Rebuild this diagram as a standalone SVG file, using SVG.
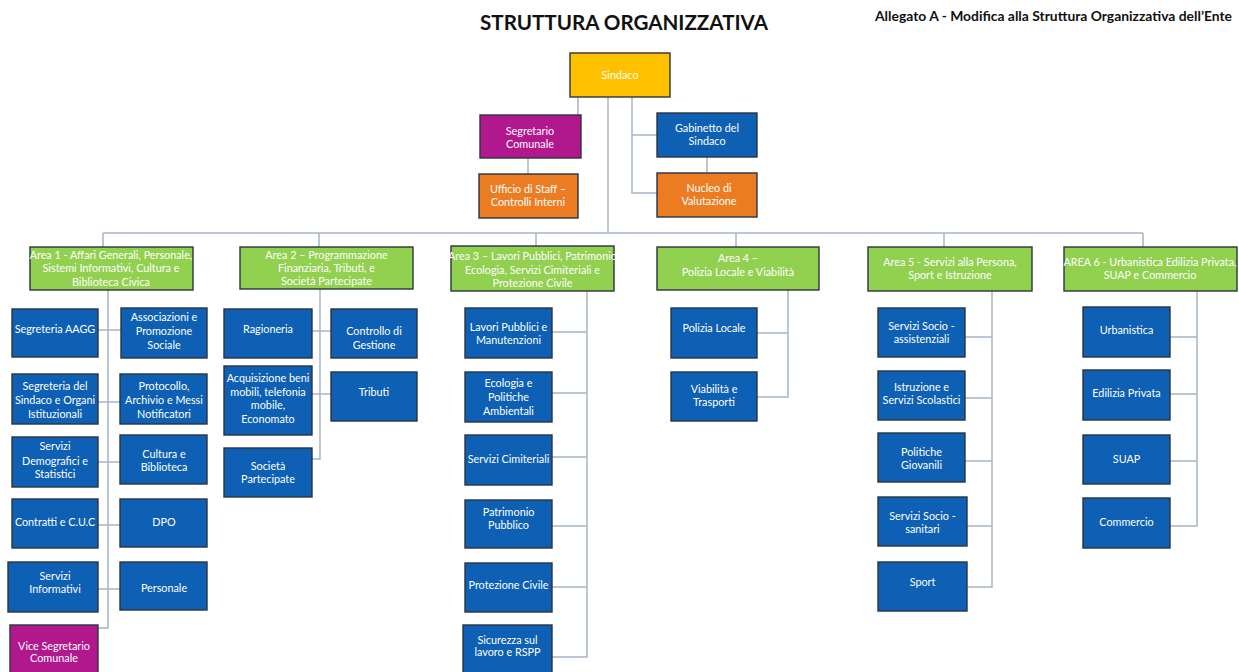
<svg xmlns="http://www.w3.org/2000/svg" width="1239" height="672" viewBox="0 0 1239 672">
  <style>
    .bg { fill: #ffffff; }
    .box { stroke: #2b3440; stroke-width: 1.4; }
    .blue { fill: #0E60B4; }
    .green { fill: #92D050; }
    .yellow { fill: #FFC000; }
    .orange { fill: #EC7C22; }
    .magenta { fill: #B1188E; }
    .t { font-family: Lato, "Open Sans", "Liberation Sans", sans-serif; font-size: 10.8px; fill: #ffffff; text-anchor: middle; }
    .ttl { font-family: Lato, "Liberation Sans", sans-serif; font-weight: bold; fill: #111111; }
    .ln { stroke: #A7B5C6; stroke-width: 1.5; fill: none; }
  </style>

  <rect class="bg" x="0" y="0" width="1239" height="672"/>

  <!-- headings -->
  <text class="ttl" x="480" y="30" font-size="20.5" textLength="288" lengthAdjust="spacingAndGlyphs">STRUTTURA ORGANIZZATIVA</text>
  <text class="ttl" x="875" y="21" font-size="12.5" textLength="357" lengthAdjust="spacingAndGlyphs">Allegato A - Modifica alla Struttura Organizzativa dell’Ente</text>

  <!-- connectors -->
  <g id="connectors" class="ln">
    <!-- top staff -->
    <path d="M578 97V115"/>
    <path d="M528 158V174"/>
    <path d="M608 97V233"/>
    <path d="M632 97V193H657M632 135H657"/>
    <path d="M707 157V173"/>
    <!-- area bus -->
    <path d="M103 233H1143"/>
    <path d="M103 233V247M319 233V247M536 233V246M736 233V247M944 233V247M1143 233V247"/>
    <!-- area 1 -->
    <path d="M108 290V628H98"/>
    <path d="M98 330H121M98 402H120M98 462H120M98 525H120M98 589H120"/>
    <!-- area 2 -->
    <path d="M320 289V459H312"/>
    <path d="M312 331H331M312 394H331"/>
    <!-- area 3 -->
    <path d="M587 291V657H552"/>
    <path d="M552 332H587M552 393H587M552 457H587M552 526H587M552 587H587"/>
    <!-- area 4 -->
    <path d="M788 290V397H757M757 333H788"/>
    <!-- area 5 -->
    <path d="M992 291V587H967"/>
    <path d="M965 337H992M965 398H992M965 461H992M967 526H992"/>
    <!-- area 6 -->
    <path d="M1197 291V526H1170"/>
    <path d="M1170 337H1197M1170 394H1197M1170 461H1197"/>
  </g>

  <!-- top level -->
  <g id="sindaco"><rect class="box yellow" x="570" y="53" width="100" height="44"/><text class="t" x="620" y="79">Sindaco</text></g>
  <g id="segretario"><rect class="box magenta" x="480" y="115" width="101" height="43"/><text class="t" x="530" y="135">Segretario</text><text class="t" x="530" y="148">Comunale</text></g>
  <g id="ufficio-staff"><rect class="box orange" x="479" y="174" width="99" height="44"/><text class="t" x="528" y="193">Ufficio di Staff –</text><text class="t" x="528" y="206">Controlli Interni</text></g>
  <g id="gabinetto"><rect class="box blue" x="657" y="113" width="100" height="44"/><text class="t" x="707" y="132">Gabinetto del</text><text class="t" x="707" y="145">Sindaco</text></g>
  <g id="nucleo"><rect class="box orange" x="657" y="173" width="100" height="44"/><text class="t" x="709" y="192">Nucleo di</text><text class="t" x="709" y="205">Valutazione</text></g>

  <!-- areas -->
  <g id="area1"><rect class="box green" x="30" y="247" width="163" height="43"/><text class="t" x="111" y="259">Area 1 - Affari Generali, Personale,</text><text class="t" x="111" y="272">Sistemi Informativi, Cultura e</text><text class="t" x="111" y="285.5">Biblioteca Civica</text></g>
  <g id="area2"><rect class="box green" x="240" y="247" width="173" height="42"/><text class="t" x="326.5" y="258.5">Area 2 – Programmazione</text><text class="t" x="326.5" y="271.5">Finanziaria, Tributi, e</text><text class="t" x="326.5" y="285">Società Partecipate</text></g>
  <g id="area3"><rect class="box green" x="451" y="246" width="163" height="45"/><text class="t" x="532.5" y="260">Area 3 – Lavori Pubblici, Patrimonio</text><text class="t" x="532.5" y="273.5">Ecologia, Servizi Cimiteriali e</text><text class="t" x="532.5" y="286.5">Protezione Civile</text></g>
  <g id="area4"><rect class="box green" x="657" y="247" width="162" height="43"/><text class="t" x="738" y="261.5">Area 4 –</text><text class="t" x="738" y="275.5">Polizia Locale e Viabilità</text></g>
  <g id="area5"><rect class="box green" x="868" y="247" width="164" height="44"/><text class="t" x="950" y="265.5">Area 5 - Servizi alla Persona,</text><text class="t" x="950" y="278.5">Sport e Istruzione</text></g>
  <g id="area6"><rect class="box green" x="1064" y="247" width="173" height="44"/><text class="t" x="1150" y="265.5">AREA 6 - Urbanistica Edilizia Privata,</text><text class="t" x="1150" y="278.5">SUAP e Commercio</text></g>

  <!-- area 1 offices -->
  <g id="segreteria-aagg"><rect class="box blue" x="12" y="309" width="86" height="48"/><text class="t" x="55" y="333">Segreteria AAGG</text></g>
  <g id="associazioni"><rect class="box blue" x="121" y="308" width="86" height="50"/><text class="t" x="164" y="321">Associazioni e</text><text class="t" x="164" y="335">Promozione</text><text class="t" x="164" y="349">Sociale</text></g>
  <g id="segreteria-sindaco"><rect class="box blue" x="12" y="374" width="86" height="50"/><text class="t" x="55" y="390">Segreteria del</text><text class="t" x="55" y="404">Sindaco e Organi</text><text class="t" x="55" y="418">Istituzionali</text></g>
  <g id="protocollo"><rect class="box blue" x="120" y="374" width="87" height="50"/><text class="t" x="164" y="390">Protocollo,</text><text class="t" x="164" y="404">Archivio e Messi</text><text class="t" x="164" y="418">Notificatori</text></g>
  <g id="demografici"><rect class="box blue" x="12" y="437" width="86" height="50"/><text class="t" x="55" y="450">Servizi</text><text class="t" x="55" y="464.5">Demografici e</text><text class="t" x="55" y="478">Statistici</text></g>
  <g id="cultura"><rect class="box blue" x="120" y="435" width="87" height="49"/><text class="t" x="164" y="458">Cultura e</text><text class="t" x="164" y="471">Biblioteca</text></g>
  <g id="contratti"><rect class="box blue" x="12" y="499" width="86" height="49"/><text class="t" x="55" y="526">Contratti e C.U.C</text></g>
  <g id="dpo"><rect class="box blue" x="120" y="499" width="87" height="48"/><text class="t" x="164" y="526">DPO</text></g>
  <g id="servizi-informativi"><rect class="box blue" x="8" y="562" width="90" height="50"/><text class="t" x="55" y="580">Servizi</text><text class="t" x="55" y="593">Informativi</text></g>
  <g id="personale"><rect class="box blue" x="120" y="562" width="87" height="48"/><text class="t" x="164" y="592">Personale</text></g>
  <g id="vice-segretario"><rect class="box magenta" x="10" y="625" width="88" height="54"/><text class="t" x="54" y="650">Vice Segretario</text><text class="t" x="54" y="662">Comunale</text></g>

  <!-- area 2 offices -->
  <g id="ragioneria"><rect class="box blue" x="224" y="309" width="88" height="49"/><text class="t" x="268" y="333">Ragioneria</text></g>
  <g id="controllo-gestione"><rect class="box blue" x="331" y="309" width="86" height="49"/><text class="t" x="374" y="335">Controllo di</text><text class="t" x="374" y="349">Gestione</text></g>
  <g id="acquisizione"><rect class="box blue" x="224" y="366" width="88" height="69"/><text class="t" x="268" y="382">Acquisizione beni</text><text class="t" x="268" y="395.5">mobili, telefonia</text><text class="t" x="268" y="409">mobile,</text><text class="t" x="268" y="422.5">Economato</text></g>
  <g id="tributi"><rect class="box blue" x="331" y="372" width="86" height="49"/><text class="t" x="374" y="396">Tributi</text></g>
  <g id="societa"><rect class="box blue" x="224" y="448" width="88" height="49"/><text class="t" x="268" y="470">Società</text><text class="t" x="268" y="483">Partecipate</text></g>

  <!-- area 3 offices -->
  <g id="lavori-pubblici"><rect class="box blue" x="465" y="308" width="87" height="50"/><text class="t" x="508.5" y="331">Lavori Pubblici e</text><text class="t" x="508.5" y="344">Manutenzioni</text></g>
  <g id="ecologia"><rect class="box blue" x="465" y="372" width="87" height="50"/><text class="t" x="508.5" y="387">Ecologia e</text><text class="t" x="508.5" y="401">Politiche</text><text class="t" x="508.5" y="415">Ambientali</text></g>
  <g id="cimiteriali"><rect class="box blue" x="465" y="435" width="87" height="50"/><text class="t" x="508.5" y="463">Servizi Cimiteriali</text></g>
  <g id="patrimonio"><rect class="box blue" x="465" y="500" width="87" height="48"/><text class="t" x="508.5" y="516">Patrimonio</text><text class="t" x="508.5" y="529">Pubblico</text></g>
  <g id="protezione-civile"><rect class="box blue" x="465" y="563" width="87" height="49"/><text class="t" x="508.5" y="589">Protezione Civile</text></g>
  <g id="sicurezza"><rect class="box blue" x="463" y="625" width="89" height="50"/><text class="t" x="507.5" y="644">Sicurezza sul</text><text class="t" x="507.5" y="656">lavoro e RSPP</text></g>

  <!-- area 4 offices -->
  <g id="polizia-locale"><rect class="box blue" x="671" y="308" width="86" height="50"/><text class="t" x="714" y="332">Polizia Locale</text></g>
  <g id="viabilita"><rect class="box blue" x="671" y="372" width="86" height="49"/><text class="t" x="714" y="393">Viabilità e</text><text class="t" x="714" y="406">Trasporti</text></g>

  <!-- area 5 offices -->
  <g id="socio-assistenziali"><rect class="box blue" x="878" y="308" width="87" height="49"/><text class="t" x="921.5" y="330">Servizi Socio -</text><text class="t" x="921.5" y="343">assistenziali</text></g>
  <g id="istruzione"><rect class="box blue" x="878" y="371" width="87" height="49"/><text class="t" x="921.5" y="391">Istruzione e</text><text class="t" x="921.5" y="404">Servizi Scolastici</text></g>
  <g id="politiche-giovanili"><rect class="box blue" x="878" y="433" width="87" height="49"/><text class="t" x="921.5" y="456">Politiche</text><text class="t" x="921.5" y="469">Giovanili</text></g>
  <g id="socio-sanitari"><rect class="box blue" x="878" y="497" width="89" height="49"/><text class="t" x="922.5" y="520">Servizi Socio -</text><text class="t" x="922.5" y="533">sanitari</text></g>
  <g id="sport"><rect class="box blue" x="878" y="562" width="89" height="49"/><text class="t" x="922.5" y="586">Sport</text></g>

  <!-- area 6 offices -->
  <g id="urbanistica"><rect class="box blue" x="1083" y="307" width="87" height="50"/><text class="t" x="1126.5" y="334">Urbanistica</text></g>
  <g id="edilizia-privata"><rect class="box blue" x="1083" y="370" width="87" height="50"/><text class="t" x="1126.5" y="397">Edilizia Privata</text></g>
  <g id="suap"><rect class="box blue" x="1083" y="435" width="87" height="49"/><text class="t" x="1126.5" y="463">SUAP</text></g>
  <g id="commercio"><rect class="box blue" x="1083" y="498" width="87" height="50"/><text class="t" x="1126.5" y="526">Commercio</text></g>
</svg>
